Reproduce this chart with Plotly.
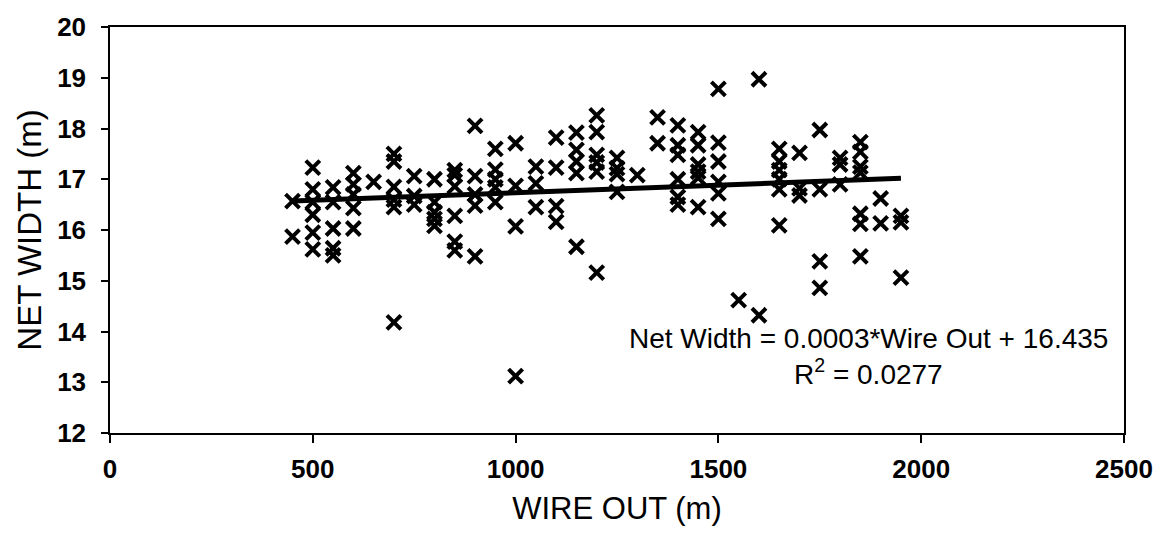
import plotly.graph_objects as go

# ---- data ----
wire_out_groups = [450, 500, 550, 600, 650, 700, 750, 800, 850, 900, 950, 1000,
                   1050, 1100, 1150, 1200, 1250, 1300, 1350, 1400, 1450, 1500,
                   1550, 1600, 1650, 1700, 1750, 1800, 1850, 1900, 1950]
net_width_groups = [
    [16.57, 15.87],
    [17.23, 16.8, 16.55, 16.3, 15.95, 15.62],
    [16.84, 16.55, 16.03, 15.64, 15.5],
    [17.12, 16.9, 16.7, 16.43, 16.03],
    [16.95],
    [17.5, 17.35, 16.85, 16.6, 16.45, 14.18],
    [17.06, 16.67, 16.5],
    [17.0, 16.55, 16.35, 16.22, 16.08],
    [17.18, 17.08, 16.86, 16.28, 15.77, 15.6],
    [18.05, 17.06, 16.7, 16.48, 15.48],
    [17.6, 17.19, 17.0, 16.84, 16.55],
    [17.71, 16.87, 16.07, 13.12],
    [17.25, 16.92, 16.45],
    [17.82, 17.23, 16.47, 16.16],
    [17.92, 17.58, 17.35, 17.12, 15.67],
    [18.26, 17.93, 17.48, 17.33, 17.15, 15.16],
    [17.42, 17.22, 17.1, 16.75],
    [17.08],
    [18.22, 17.71],
    [18.06, 17.67, 17.48, 17.0, 16.65, 16.5],
    [17.93, 17.67, 17.29, 17.15, 17.03, 16.45],
    [18.78, 17.72, 17.35, 16.95, 16.72, 16.22],
    [14.62],
    [18.97, 14.32],
    [17.6, 17.35, 17.18, 17.0, 16.8, 16.09],
    [17.52, 16.82, 16.68],
    [17.97, 16.8, 15.38, 14.86],
    [17.42, 17.29, 16.9],
    [17.73, 17.54, 17.25, 17.13, 16.32, 16.12, 15.48],
    [16.62, 16.13],
    [16.28, 16.15, 15.06],
]

trend_slope = 0.0003
trend_intercept = 16.435
r_squared = 0.0277

x_ticks = [0, 500, 1000, 1500, 2000, 2500]
y_ticks = [12, 13, 14, 15, 16, 17, 18, 19, 20]

# ---- build ----
wire_out = []
net_width = []
for xv, ys in zip(wire_out_groups, net_width_groups):
    for yv in ys:
        wire_out.append(xv)
        net_width.append(yv)

x_lo, x_hi = min(wire_out), max(wire_out)
trend_x = [x_lo, x_hi]
trend_y = [trend_slope * v + trend_intercept for v in trend_x]

FONT = "Liberation Sans, Arial, sans-serif"

fig = go.Figure()
fig.add_trace(go.Scatter(
    x=wire_out, y=net_width, mode="markers",
    marker=dict(symbol="x-thin", size=14, color="black",
                line=dict(color="black", width=4)),
    showlegend=False, hoverinfo="x+y"))
fig.add_trace(go.Scatter(
    x=trend_x, y=trend_y, mode="lines",
    line=dict(color="black", width=5),
    showlegend=False, hoverinfo="skip"))

fig.add_annotation(
    x=1871, y=13.87, xref="x", yref="y", showarrow=False,
    text=f"Net Width = {trend_slope:.4f}*Wire Out + {trend_intercept}",
    font=dict(family=FONT, size=28, color="black"), xanchor="center", yanchor="middle")
fig.add_annotation(
    x=1871, y=13.2, xref="x", yref="y", showarrow=False,
    text=f"R<sup>2</sup> = {r_squared}",
    font=dict(family=FONT, size=28, color="black"), xanchor="center", yanchor="middle")

fig.update_layout(
    width=1165, height=541,
    margin=dict(l=110, r=38, t=20, b=108),
    paper_bgcolor="white", plot_bgcolor="white",
    font=dict(family=FONT, color="black"),
    xaxis=dict(range=[0, 2500], tickvals=x_ticks, ticks="outside", ticklen=8,
               tickwidth=1.5, tickcolor="black",
               showline=True, linecolor="black", linewidth=1.5, mirror=True,
               showgrid=False, zeroline=False,
               tickfont=dict(family=FONT, size=26, weight="bold", color="black"),
               ticklabelstandoff=4,
               title=dict(text="WIRE OUT (m)", standoff=14,
                          font=dict(family=FONT, size=31, color="black"))),
    yaxis=dict(range=[12, 20], tickvals=y_ticks, ticks="outside", ticklen=7,
               tickwidth=1.5, tickcolor="black",
               showline=True, linecolor="black", linewidth=1.5, mirror=True,
               showgrid=False, zeroline=False,
               tickfont=dict(family=FONT, size=26, weight="bold", color="black"),
               ticklabelstandoff=10,
               title=dict(text="NET WIDTH (m)", standoff=6,
                          font=dict(family=FONT, size=33, color="black"))),
)

fig.write_html("out.html")
